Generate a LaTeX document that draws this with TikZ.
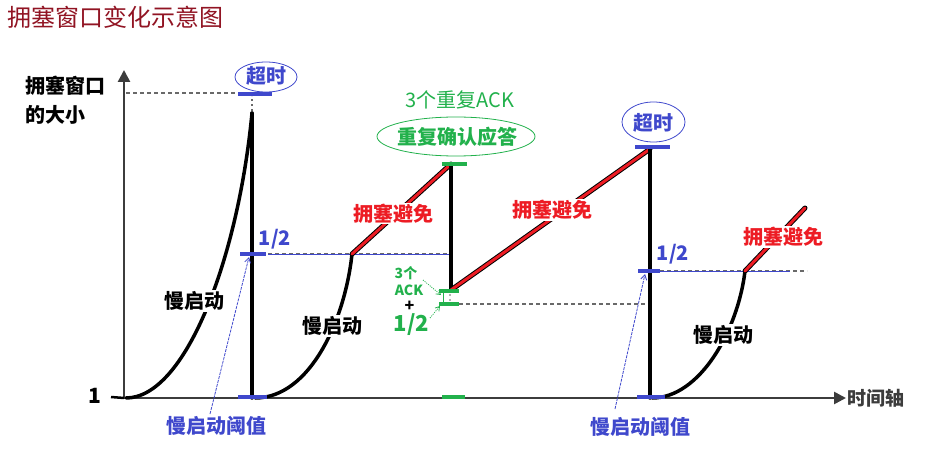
\documentclass[tikz,border=0pt]{standalone}
\usepackage{fontspec}
\setmainfont{Noto Sans CJK SC}
\usetikzlibrary{arrows.meta,shapes.geometric}
\definecolor{cblue}{RGB}{63,72,204}
\definecolor{cgreen}{RGB}{34,177,76}
\definecolor{cred}{RGB}{237,28,36}
\definecolor{ctitle}{RGB}{145,20,35}
\definecolor{caxis}{RGB}{60,60,60}
\definecolor{cguide}{RGB}{105,105,105}
\begin{document}
\begin{tikzpicture}[x=1pt,y=-1pt,
  axis/.style={line width=2.6pt, draw=caxis, -{Triangle[length=12pt,width=12pt]}},
  curve/.style={line width=3.5pt, draw=black, line cap=round},
  redseg/.style={line width=3pt, draw=cred, line cap=round, preaction={draw=black, line width=5pt, line cap=round}},
  bluebar/.style={line width=4.5pt, draw=cblue},
  greenbar/.style={line width=4.5pt, draw=cgreen},
  guide/.style={line width=2.3pt, draw=cguide, dash pattern=on 4pt off 3pt},
  thinblue/.style={line width=0.9pt, draw=cblue},
  bluearrow/.style={line width=0.8pt, draw=cblue, dash pattern=on 3pt off 1pt, -{Straight Barb[length=5pt,width=6pt]}},
  greenarrow/.style={line width=0.8pt, draw=cgreen, dash pattern=on 1pt off 1.2pt, -{Straight Barb[length=4pt,width=5pt]}},
  bigtxt/.style={font=\fontsize{20}{24}\selectfont\bfseries, inner sep=1pt},
  whitebg/.style={bigtxt, fill=white},
  smalltxt/.style={font=\fontsize{14}{16}\selectfont\bfseries, inner sep=0pt, text=cgreen},
]
\useasboundingbox (0,0) rectangle (934,449);

% title and axis label
\node[anchor=west, text=ctitle, font=\fontsize{24}{28}\selectfont, inner sep=0pt] (title) at (7,17) {拥塞窗口变化示意图};
\node[anchor=west, bigtxt, font=\fontsize{20}{23}\selectfont\bfseries] (ylab1) at (24,86) {拥塞窗口};
\node[anchor=west, bigtxt, font=\fontsize{20}{23}\selectfont\bfseries] (ylab2) at (24,115) {的大小};

% axes
\coordinate (O) at (124,398);
\coordinate (ytop) at (124,70);
\coordinate (xend) at (846,398);
\coordinate (tick1) at (111,397);
\draw[axis] (O) -- (ytop);
\draw[axis] (O) -- (xend);
\draw[line width=2.5pt, black] (tick1) -- (O);
\node[bigtxt, font=\fontsize{21}{24}\selectfont\bfseries] (one) at (95,396) {1};
\node[bigtxt, text=caxis, font=\fontsize{19}{22}\selectfont\bfseries] (xlab) at (876,398) {时间轴};

% guide lines
\draw[guide] (126,93) -- (238,93);
\draw[guide] (268,254) -- (451,254);
\draw[guide] (459,304) -- (650,304);
\draw[guide] (660,271) -- (807,271);
\draw[thinblue] (268,254) -- (450,254);
\draw[thinblue] (660,271) -- (790,271);
\draw[line width=2pt, draw=cguide, dash pattern=on 2pt off 3pt] (252,111) -- (252,96);
\draw[line width=2pt, draw=gray!60, dash pattern=on 2pt off 3pt] (450,294) -- (450,304);

% key points
\coordinate (s1) at (126,398);
\coordinate (p1) at (252,113);
\coordinate (p1b) at (252,398);
\coordinate (s2) at (255,398);
\coordinate (p2) at (352,254);
\coordinate (p3) at (451,164);
\coordinate (p3b) at (451,290);
\coordinate (p4) at (650,149);
\coordinate (p4b) at (650,398);
\coordinate (s3) at (652,398);
\coordinate (p5) at (745,271);
\coordinate (p5e) at (805,208);

% window curve
\draw[curve] (s1) .. controls (185,398) and (238,260) .. (p1);
\draw[curve] (p1) -- (p1b);
\draw[curve] (s2) .. controls (310,398) and (345,320) .. (p2);
\draw[redseg] (p2) -- (p3);
\draw[curve] (p3) -- (p3b);
\draw[redseg] (p3b) -- (p4);
\draw[curve] (p4) -- (p4b);
\draw[curve] (s3) .. controls (700,398) and (738,330) .. (p5);
\draw[redseg] (p5) -- (p5e);

% bars
\draw[bluebar] (238,94) -- (272,94);
\draw[bluebar] (240,254) -- (266,254);
\draw[bluebar] (238,397) -- (267,397);
\draw[bluebar] (635,147) -- (670,147);
\draw[bluebar] (638,271) -- (660,271);
\draw[bluebar] (637,397) -- (665,397);
\draw[greenbar] (442,164) -- (467,164);
\draw[greenbar, line width=3.5pt] (439,291) -- (459,291);
\draw[greenbar, line width=3.5pt] (439,304) -- (459,304);
\draw[cgreen, line width=1pt] (443,291) -- (443,304);
\draw[greenbar] (442,397) -- (465,397);

% timeouts
\draw[cblue, line width=0.8pt] (266,77) ellipse [x radius=31, y radius=15];
\node[bigtxt, text=cblue] (to1) at (266,76) {超时};
\draw[cblue, line width=0.8pt] (653.5,122) ellipse [x radius=31.5, y radius=20];
\node[bigtxt, text=cblue] (to2) at (653,123) {超时};

% dup ack
\node[font=\fontsize{20}{24}\selectfont, text=cgreen, inner sep=0pt] (dup3) at (460,100) {3个重复ACK};
\draw[cgreen, line width=0.8pt] (456,136.5) ellipse [x radius=79, y radius=19.5];
\node[bigtxt, text=cgreen] (dupack) at (457,137) {重复确认应答};

% labels
\node[whitebg, text=cred] (ca1) at (393.5,213.5) {拥塞避免};
\node[whitebg, text=cred] (ca2) at (552.5,210) {拥塞避免};
\node[whitebg, text=cred] (ca3) at (783.5,237) {拥塞避免};
\node[whitebg] (ss1) at (194,301) {慢启动};
\node[whitebg] (ss2) at (332,326) {慢启动};
\node[whitebg] (ss3) at (723,335) {慢启动};
\node[bigtxt, text=cblue] (h1) at (275,239) {1/2};
\node[bigtxt, text=cblue] (h2) at (673,254) {1/2};
\node[bigtxt, text=cblue] (th1) at (216.5,426) {慢启动阈值};
\node[bigtxt, text=cblue] (th2) at (640,427) {慢启动阈值};

% fast recovery note
\node[smalltxt] (g3) at (406,273) {3个};
\node[smalltxt] (gack) at (409,290) {ACK};
\node[smalltxt, text=black, font=\fontsize{16}{18}\selectfont\bfseries] (gplus) at (409.5,306) {+};
\node[smalltxt, font=\fontsize{22}{24}\selectfont\bfseries] (ghalf) at (411.5,324.5) {1/2};

% pointer arrows
\coordinate (a1s) at (210,414);
\coordinate (a1e) at (249,257);
\coordinate (a2s) at (615,409);
\coordinate (a2e) at (645,274);
\coordinate (g1s) at (423,280);
\coordinate (g1e) at (441,295);
\coordinate (g2s) at (430,318);
\coordinate (g2e) at (440,306);
\draw[bluearrow] (a1s) -- (a1e);
\draw[bluearrow] (a2s) -- (a2e);
\draw[greenarrow] (g1s) -- (g1e);
\draw[greenarrow] (g2s) -- (g2e);
\end{tikzpicture}
\end{document}
